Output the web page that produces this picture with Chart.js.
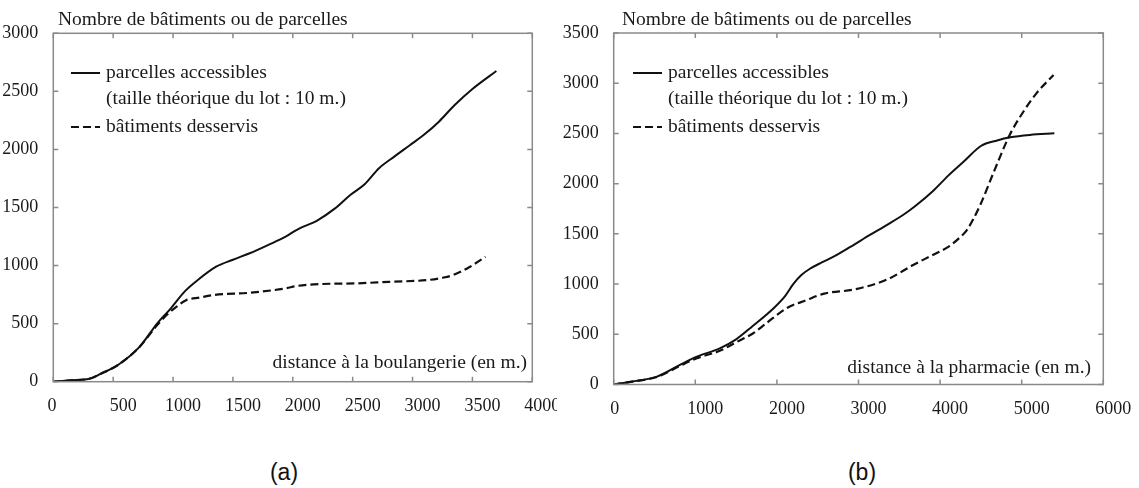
<!DOCTYPE html>
<html lang="fr">
<head>
<meta charset="utf-8">
<script src="https://cdn.jsdelivr.net/npm/chart.js@4.4.0/dist/chart.umd.min.js"></script>
<style>
    body { margin: 0; background: #fff; width: 1139px; height: 488px; overflow: hidden; position: relative; font-family: "Liberation Sans", Arial, sans-serif; }
    canvas { position: absolute; top: 0; }
    #chartA { left: 0; }
    #chartB { left: 556px; }
    .caption { position: absolute; top: 459px; width: 60px; line-height: 26px; text-align: center; font-size: 23px; color: #111; }
</style>
</head>
<body>
<canvas id="chartA" width="557" height="430"></canvas>
<canvas id="chartB" width="583" height="430"></canvas>
<div class="caption" style="left:254px">(a)</div>
<div class="caption" style="left:832px">(b)</div>
<script>
// (a) distance à la boulangerie
const boulDistParcelles = [0, 150, 300, 400, 540, 720, 870, 980, 1100, 1200, 1360, 1500, 1640, 1800, 1940, 2030, 2210, 2350, 2480, 2600, 2720, 2850, 2980, 3100, 3220, 3350, 3500, 3700];
const boulParcelles = [0, 12, 25, 70, 144, 300, 505, 630, 780, 870, 990, 1050, 1106, 1180, 1249, 1306, 1392, 1490, 1608, 1700, 1838, 1940, 2038, 2130, 2239, 2380, 2520, 2675];
const boulDistBatiments = [0, 150, 300, 400, 540, 720, 870, 946, 1030, 1105, 1224, 1344, 1642, 1940, 2031, 2238, 2536, 2800, 3133, 3250, 3341, 3480, 3609];
const boulBatiments = [0, 12, 25, 70, 144, 300, 490, 574, 646, 700, 725, 747, 766, 804, 824, 841, 847, 860, 876, 895, 919, 990, 1076];

// (b) distance à la pharmacie
const pharmDistParcelles = [0, 220, 530, 800, 1020, 1300, 1500, 1700, 1960, 2100, 2200, 2300, 2400, 2550, 2700, 2900, 3140, 3350, 3550, 3700, 3910, 4100, 4290, 4500, 4700, 4860, 5100, 5400];
const pharmParcelles = [0, 28, 78, 190, 277, 360, 450, 580, 760, 880, 1000, 1090, 1150, 1215, 1275, 1370, 1489, 1590, 1690, 1780, 1925, 2080, 2220, 2375, 2430, 2461, 2485, 2501];
const pharmDistBatiments = [0, 220, 530, 800, 1020, 1300, 1500, 1710, 1870, 2120, 2365, 2580, 2940, 3350, 3670, 3910, 4100, 4230, 4330, 4490, 4660, 4850, 5020, 5180, 5390];
const pharmBatiments = [0, 28, 75, 180, 262, 335, 420, 510, 610, 760, 841, 905, 945, 1045, 1190, 1290, 1370, 1455, 1540, 1785, 2120, 2480, 2716, 2899, 3082];

// tick labels
const xTicksA = [0, 500, 1000, 1500, 2000, 2500, 3000, 3500, 4000];
const yTicksA = [0, 500, 1000, 1500, 2000, 2500, 3000];
const xTicksB = [0, 1000, 2000, 3000, 4000, 5000, 6000];
const yTicksB = [0, 500, 1000, 1500, 2000, 2500, 3000, 3500];

const legendLabels = ['parcelles accessibles', 'bâtiments desservis'];
const legendSubLabel = '(taille théorique du lot : 10 m.)';
const yTitle = 'Nombre de bâtiments ou de parcelles';

const SERIF = '"Liberation Serif", "Times New Roman", serif';
const INK = '#1a1a1a';
const FRAME = '#8a8a8a';

function toPoints(xs, ys) {
    return xs.map((x, i) => ({ x: x, y: ys[i] }));
}

// Box, inward ticks, titles and legend
const framePlugin = {
    id: 'frame',
    afterDatasetsDraw(chart, args, opts) {
        const { ctx, chartArea: a, scales } = chart;
        ctx.save();
        ctx.strokeStyle = FRAME;
        ctx.lineWidth = 1.5;
        ctx.strokeRect(a.left, a.top, a.right - a.left, a.bottom - a.top);

        ctx.beginPath();
        scales.x.ticks.forEach(t => {
            const px = scales.x.getPixelForValue(t.value);
            ctx.moveTo(px, a.bottom); ctx.lineTo(px, a.bottom - 5);
            ctx.moveTo(px, a.top); ctx.lineTo(px, a.top + 5);
        });
        scales.y.ticks.forEach(t => {
            const py = scales.y.getPixelForValue(t.value);
            ctx.moveTo(a.left, py); ctx.lineTo(a.left + 5, py);
            ctx.moveTo(a.right, py); ctx.lineTo(a.right - 5, py);
        });
        ctx.stroke();

        ctx.fillStyle = INK;
        ctx.font = '19.5px ' + SERIF;
        ctx.textBaseline = 'middle';
        ctx.textAlign = 'left';
        ctx.fillText(yTitle, opts.yTitleX, 20);
        ctx.textAlign = 'right';
        ctx.fillText(opts.xTitle, opts.xTitleRight, opts.xTitleY);

        // legend
        ctx.textAlign = 'left';
        const rows = [73, 127];
        chart.data.datasets.forEach((ds, i) => {
            ctx.beginPath();
            ctx.strokeStyle = ds.borderColor;
            ctx.lineWidth = ds.borderWidth;
            ctx.setLineDash(ds.borderDash || []);
            ctx.moveTo(opts.legendX, rows[i]);
            ctx.lineTo(opts.legendX + 29, rows[i]);
            ctx.stroke();
            ctx.setLineDash([]);
            ctx.fillText(legendLabels[i], opts.legendX + 35, rows[i]);
        });
        ctx.fillText(legendSubLabel, opts.legendX + 35, 99);
        ctx.restore();
    }
};

function makeChart(id, cfg) {
    const canvas = document.getElementById(id);
    const H = canvas.height;
    return new Chart(canvas, {
        type: 'line',
        data: {
            datasets: [{
                label: legendLabels[0],
                data: toPoints(cfg.xs1, cfg.ys1),
                borderColor: '#111',
                borderWidth: 2,
                cubicInterpolationMode: 'monotone',
                pointRadius: 0,
                fill: false
            }, {
                label: legendLabels[1],
                data: toPoints(cfg.xs2, cfg.ys2),
                borderColor: '#111',
                borderWidth: 2.2,
                borderDash: [8, 4],
                cubicInterpolationMode: 'monotone',
                pointRadius: 0,
                fill: false
            }]
        },
        options: {
            responsive: false,
            animation: false,
            devicePixelRatio: 1,
            layout: { padding: { left: 0, right: canvas.width - cfg.right, top: cfg.top, bottom: 0 } },
            plugins: {
                legend: { display: false },
                tooltip: { enabled: false },
                frame: cfg.frame
            },
            scales: {
                x: {
                    type: 'linear',
                    min: cfg.xTicks[0],
                    max: cfg.xTicks[cfg.xTicks.length - 1],
                    afterBuildTicks: s => { s.ticks = cfg.xTicks.map(v => ({ value: v })); },
                    afterFit: s => { s.height = H - cfg.bottom; s.paddingLeft = 0; s.paddingRight = 0; },
                    grid: { display: false },
                    border: { display: false },
                    ticks: {
                        color: INK,
                        font: { family: SERIF, size: 18 },
                        padding: 6,
                        maxRotation: 0,
                        autoSkip: false,
                        labelOffset: 10,
                        // the "0" sits on the axis while the others are shifted right
                        callback: v => v === 0 ? '0' + cfg.zeroPad : String(v)
                    }
                },
                y: {
                    min: cfg.yTicks[0],
                    max: cfg.yTicks[cfg.yTicks.length - 1],
                    afterBuildTicks: s => { s.ticks = cfg.yTicks.map(v => ({ value: v })); },
                    afterFit: s => { s.width = cfg.left; s.paddingTop = 0; s.paddingBottom = 0; },
                    grid: { display: false },
                    border: { display: false },
                    ticks: {
                        color: INK,
                        font: { family: SERIF, size: 18 },
                        padding: 7,
                        autoSkip: false,
                        callback: v => String(v)
                    }
                }
            }
        },
        plugins: [framePlugin]
    });
}

makeChart('chartA', {
    xs1: boulDistParcelles, ys1: boulParcelles,
    xs2: boulDistBatiments, ys2: boulBatiments,
    xTicks: xTicksA, yTicks: yTicksA,
    left: 53.3, right: 532.3, top: 33.3, bottom: 381.7,
    zeroPad: '\u2002\u2002 ',
    frame: { yTitleX: 58, xTitle: 'distance à la boulangerie (en m.)', xTitleRight: 527, xTitleY: 363, legendX: 71 }
});

makeChart('chartB', {
    xs1: pharmDistParcelles, ys1: pharmParcelles,
    xs2: pharmDistBatiments, ys2: pharmBatiments,
    xTicks: xTicksB, yTicks: yTicksB,
    left: 57.7, right: 547.3, top: 33, bottom: 384.5,
    zeroPad: '\u2002\u2002',
    frame: { yTitleX: 66, xTitle: 'distance à la pharmacie (en m.)', xTitleRight: 535, xTitleY: 368, legendX: 77 }
});
</script>
</body>
</html>
